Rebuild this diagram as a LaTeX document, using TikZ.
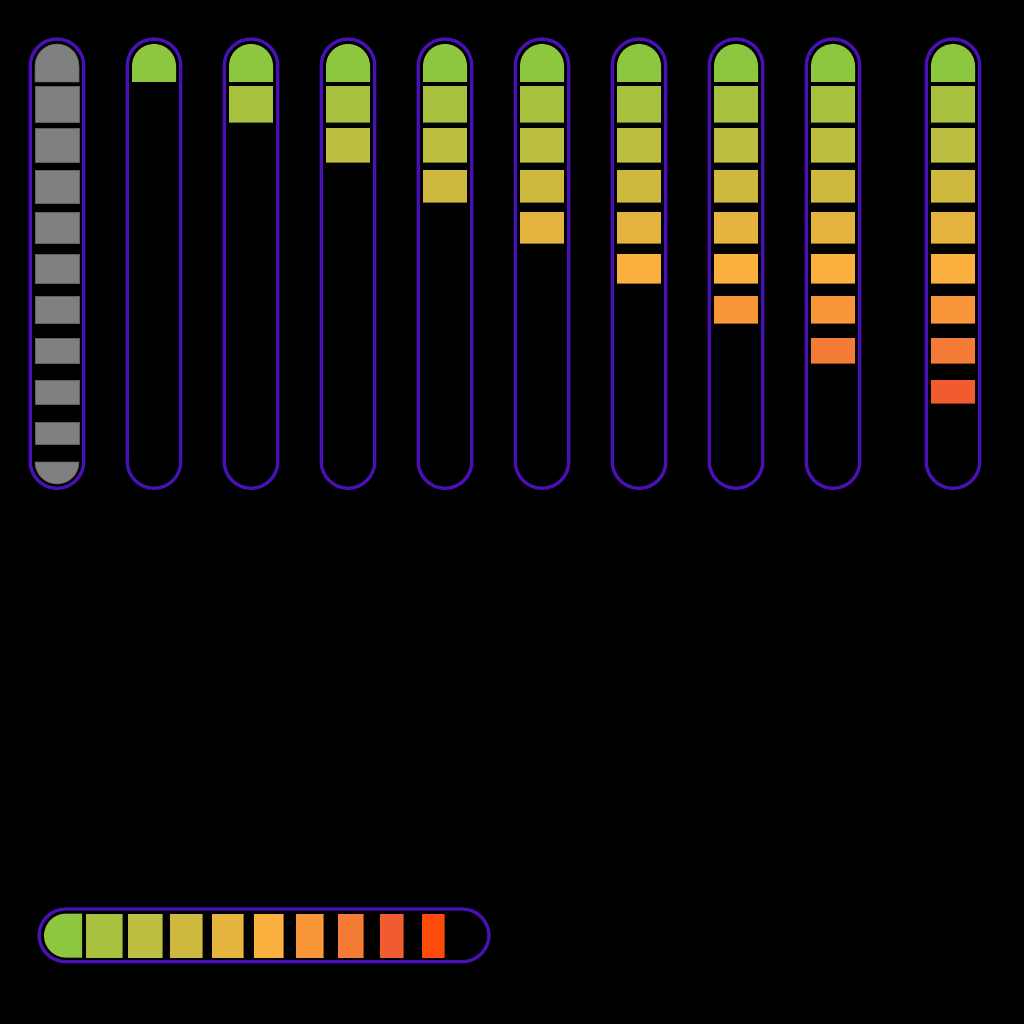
\documentclass[tikz,border=0pt]{standalone}
\usepackage{tikz}
\definecolor{tubepurple}{RGB}{72,16,182}
\definecolor{levelgray}{RGB}{128,128,128}
\definecolor{level1}{RGB}{141,198,63}
\definecolor{level2}{RGB}{167,193,63}
\definecolor{level3}{RGB}{187,190,65}
\definecolor{level4}{RGB}{206,185,62}
\definecolor{level5}{RGB}{229,180,63}
\definecolor{level6}{RGB}{251,176,64}
\definecolor{level7}{RGB}{249,150,58}
\definecolor{level8}{RGB}{245,124,55}
\definecolor{level9}{RGB}{241,91,48}
\definecolor{level10}{RGB}{254,74,10}
\tikzset{
  tube/.style={draw=tubepurple, line width=3.3pt, rounded corners=26.8pt},
  segedge/.style={line width=0.9pt},
  grayseg/.style={fill=levelgray, draw=levelgray!75!black, line width=0.6pt},
}

\begin{document}
\begin{tikzpicture}[x=1pt, y=-1pt]
  \useasboundingbox[fill=black] (0,0) rectangle (1024,1024);
  % empty (gray) meter
  \begin{scope}[shift={(57,0)}]
    \draw[tube] (-26.8,39) rectangle (26.8,488.3);
    \filldraw[grayseg] (-22,82) -- (-22,66) arc[start angle=180, end angle=360, radius=22] -- (22,82) -- cycle;
    \foreach \i in {1,...,9} {
      \pgfmathsetmacro\top{86+42*(\i-1)}
      \pgfmathsetmacro\bot{\top+36.5-1.8*(\i-1)}
      \filldraw[grayseg] (-22,\top) rectangle (22,\bot);
    }
    \filldraw[grayseg] (-22,462) -- (22,462) arc[start angle=0, end angle=180, radius=22] -- cycle;
  \end{scope}
  % filled meters, one more piece per column
  \foreach \x/\n in {154/1,251/2,348/3,445/4,542/5,639/6,736/7,833/8,953/9} {
    \begin{scope}[shift={(\x,0)}]
      \draw[tube] (-26.8,39) rectangle (26.8,488.3);
      \fill[fill=level1] (-22,82) -- (-22,66) arc[start angle=180, end angle=360, radius=22] -- (22,82) -- cycle;
      \foreach \i in {1,...,9} {
        \ifnum\i<\n
          \pgfmathsetmacro\top{86+42*(\i-1)}
          \pgfmathsetmacro\bot{\top+36.5-1.8*(\i-1)}
          \pgfmathtruncatemacro\c{\i+1}
          \fill[fill=level\c] (-22,\top) rectangle (22,\bot);
          \draw[segedge, draw=level\c!60!black] (-22,\bot) -- (22,\bot);
        \fi
      }
    \end{scope}
  }
  % horizontal meter
  \draw[tube] (39,909) rectangle (489,961.7);
  \fill[fill=level1] (82,913.6) -- (66,913.6) arc[start angle=270, end angle=90, radius=22] -- (82,957.6) -- cycle;
  \foreach \i in {1,...,9} {
    \pgfmathsetmacro\lft{86+42*(\i-1)}
    \pgfmathsetmacro\rgt{\lft+36.5-1.8*(\i-1)}
    \pgfmathtruncatemacro\c{\i+1}
    \fill[fill=level\c] (\lft,913.6) rectangle (\rgt,957.6);
    \draw[segedge, draw=level\c!60!black] (\rgt,913.6) -- (\rgt,957.6);
  }
\end{tikzpicture}
\end{document}
